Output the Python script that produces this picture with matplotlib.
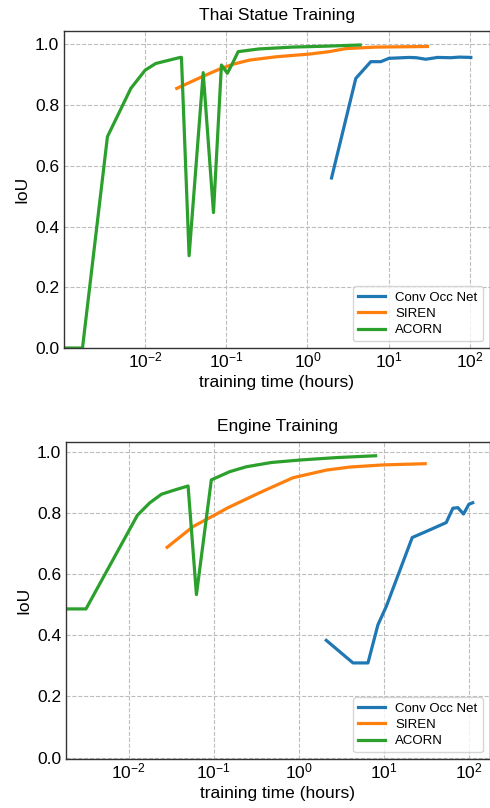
import matplotlib
matplotlib.use("Agg")
import matplotlib.pyplot as plt

plt.rcParams['font.family'] = ['Liberation Sans', 'DejaVu Sans']
plt.rcParams['axes.unicode_minus'] = False

# ---- Thai Statue data ----
thai_occ_x = [1.98, 3.94, 6.03, 8.01, 10.1, 17.9, 22.0, 28.7, 40.0, 58.4, 74.0, 103.0]
thai_occ_y = [0.560, 0.888, 0.943, 0.943, 0.954, 0.957, 0.956, 0.951, 0.957, 0.956, 0.958, 0.957]
thai_siren_x = [0.0245, 0.0508, 0.0816, 0.119, 0.191, 0.407, 1.05, 1.85, 2.97, 6.95, 30.1]
thai_siren_y = [0.855, 0.894, 0.918, 0.934, 0.948, 0.959, 0.968, 0.976, 0.986, 0.991, 0.993]
thai_acorn_x = [0.001, 0.00169, 0.00343, 0.00666, 0.0100, 0.0135, 0.0198, 0.0270, 0.0280,
                0.0348, 0.0519, 0.0695, 0.0871, 0.103, 0.119, 0.140, 0.254, 0.653, 1.68, 4.46]
thai_acorn_y = [0.0, 0.0, 0.696, 0.855, 0.915, 0.937, 0.948, 0.957, 0.957,
                0.304, 0.907, 0.446, 0.932, 0.905, 0.937, 0.976, 0.985, 0.991, 0.994, 0.998]

# ---- Engine data ----
eng_occ_x = [2.11, 4.35, 6.52, 8.54, 10.7, 21.6, 31.6, 54.2, 64.9, 74.3, 86.6, 100.0, 111.0]
eng_occ_y = [0.384, 0.310, 0.310, 0.435, 0.495, 0.721, 0.741, 0.770, 0.817, 0.819, 0.798, 0.830, 0.835]
eng_siren_x = [0.0284, 0.0574, 0.0986, 0.148, 0.348, 0.857, 2.11, 3.97, 9.77, 30.7]
eng_siren_y = [0.689, 0.757, 0.792, 0.819, 0.868, 0.917, 0.942, 0.952, 0.959, 0.963]
eng_acorn_x = [0.00184, 0.00316, 0.0127, 0.0178, 0.0244, 0.0350, 0.0501, 0.0628, 0.094,
               0.155, 0.243, 0.478, 1.03, 2.77, 8.02]
eng_acorn_y = [0.487, 0.487, 0.794, 0.835, 0.863, 0.877, 0.890, 0.534, 0.910,
               0.937, 0.953, 0.967, 0.975, 0.983, 0.989]

labels = ["Conv Occ Net", "SIREN", "ACORN"]
colors = ["#1f77b4", "#ff7f0e", "#2ca02c"]
yticks = [0.0, 0.2, 0.4, 0.6, 0.8, 1.0]
xticks = [1e-2, 1e-1, 1e0, 1e1, 1e2]

fig = plt.figure(figsize=(4.9, 8.08), dpi=100)
ax1 = fig.add_axes([0.1306, 0.5693, 0.8684, 0.3927])
ax2 = fig.add_axes([0.1347, 0.0606, 0.8643, 0.3927])

panels = [
    (ax1, "Thai Statue Training",
     [(thai_occ_x, thai_occ_y), (thai_siren_x, thai_siren_y), (thai_acorn_x, thai_acorn_y)],
     (1.0e-3, 175), (0.0, 1.045)),
    (ax2, "Engine Training",
     [(eng_occ_x, eng_occ_y), (eng_siren_x, eng_siren_y), (eng_acorn_x, eng_acorn_y)],
     (1.84e-3, 175), (-0.005, 1.035)),
]

for ax, title, series, xl, yl in panels:
    for (x, y), lab, c in zip(series, labels, colors):
        ax.plot(x, y, color=c, lw=2.3, label=lab)
    ax.set_xscale('log')
    ax.set_xlim(*xl)
    ax.set_ylim(*yl)
    ax.set_xticks(xticks)
    ax.set_yticks(yticks)
    ax.minorticks_off()
    ax.tick_params(axis='x', length=0, labelsize=12.5, pad=2)
    ax.tick_params(axis='y', length=0, labelsize=12.5, pad=3.5)
    ax.grid(True, ls='--', color='#bdbdbd', lw=0.8)
    ax.set_axisbelow(True)
    for s in ax.spines.values():
        s.set_color('#333333')
        s.set_linewidth(1.0)
    ax.set_title(title, fontsize=12.5, pad=8)
    ax.set_xlabel("training time (hours)", fontsize=12.5, labelpad=3)
    ax.set_ylabel("IoU", fontsize=12.5, labelpad=4)
    ax.legend(loc='lower right', fontsize=9.5, frameon=True, framealpha=0.8,
              handlelength=2.0, labelspacing=0.3, borderaxespad=0.5, fancybox=True)

fig.savefig("out.png", dpi=100)
